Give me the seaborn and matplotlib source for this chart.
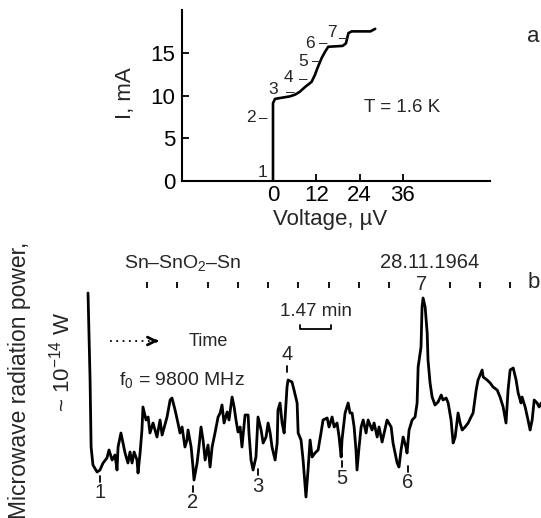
import matplotlib
matplotlib.use("Agg")
import matplotlib.pyplot as plt
import seaborn as sns

# ---------------- panel a: I-V curve ----------------
iv_voltage = [0, 0, 0.55, 1.9, 4.7, 6.1, 7.3, 8.9, 10.7, 11.6, 12.5, 13.5, 14.4, 15.3,
              19.3, 20.2, 20.9, 21.8, 27.0, 28.3]
iv_current = [0, 9.1, 9.6, 9.7, 9.9, 10.1, 10.4, 11.0, 11.6, 12.4, 13.4, 14.4, 15.1, 15.7,
              15.8, 16.1, 17.3, 17.5, 17.5, 17.8]
x_ticks_a = [0, 12, 24, 36]
y_ticks_a = [0, 5, 10, 15]
a_labels = ["1", "2", "3", "4", "5", "6", "7"]
a_label_v = [-3.0, -6.1, 0.0, 4.2, 8.3, 10.2, 16.3]
a_label_i = [1.05, 7.4, 10.7, 12.1, 14.0, 16.1, 17.4]
a_dash_v = [-2.6, 4.7, 8.4, 11.9, 13.9, 19.4]
a_dash_i = [7.4, 10.4, 11.9, 14.0, 16.1, 16.7]

# ---------------- panel b: microwave power trace ----------------
time_min = [0.00, 0.10, 0.15, 0.24, 0.44, 0.58, 0.73, 0.92, 1.02, 1.17, 1.31, 1.41, 1.46,
            1.60, 1.70, 1.80, 1.94, 2.04, 2.14, 2.24, 2.38, 2.43, 2.53, 2.62, 2.67, 2.82,
            2.92, 3.01, 3.16, 3.35, 3.50, 3.60, 3.84, 3.99, 4.08, 4.23, 4.37, 4.47, 4.57,
            4.71, 4.81, 4.86, 5.01, 5.10, 5.15, 5.30, 5.39, 5.49, 5.59, 5.69, 5.83, 5.93,
            6.03, 6.17, 6.32, 6.42, 6.51, 6.61, 6.76, 6.85, 7.00, 7.10, 7.19, 7.29, 7.39,
            7.48, 7.63, 7.78, 7.82, 7.92, 8.02, 8.16, 8.26, 8.41, 8.51, 8.65, 8.75, 8.85,
            8.94, 9.09, 9.19, 9.23, 9.33, 9.43, 9.53, 9.67, 9.72, 9.91, 10.01, 10.16, 10.21,
            10.35, 10.45, 10.55, 10.59, 10.69, 10.79, 10.89, 11.03, 11.18, 11.32, 11.42,
            11.62, 11.71, 11.86, 11.96, 12.10, 12.20, 12.30, 12.34, 12.49, 12.64, 12.73,
            12.83, 12.93, 13.02, 13.07, 13.17, 13.27, 13.37, 13.51, 13.61, 13.80, 13.90,
            14.05, 14.14, 14.29, 14.39, 14.53, 14.73, 14.82, 15.02, 15.11, 15.21, 15.31,
            15.45, 15.50, 15.60, 15.75, 15.89, 15.99, 16.04, 16.18, 16.23, 16.28, 16.38,
            16.48, 16.52, 16.62, 16.72, 16.86, 17.01, 17.16, 17.25, 17.40, 17.50, 17.64,
            17.74, 17.84, 17.98, 18.08, 18.18, 18.32, 18.47, 18.61, 18.71, 18.86, 18.95,
            19.15, 19.20, 19.39, 19.54, 19.68, 19.88, 20.02, 20.17, 20.31, 20.41, 20.51,
            20.66, 20.80, 20.90, 21.04, 21.09, 21.24, 21.38, 21.48, 21.58, 21.68, 21.82,
            21.92, 22.02]
power_au = [21.2, 12.5, 5.8, 4.0, 3.3, 3.5, 4.2, 4.7, 5.5, 4.5, 5.0, 3.5, 5.8,
            7.2, 6.2, 5.2, 4.2, 5.3, 4.2, 5.3, 4.5, 3.2, 5.2, 7.5, 9.8, 8.5,
            8.8, 7.2, 8.2, 6.8, 8.5, 7.0, 8.8, 10.5, 10.7, 9.5, 8.2, 7.2, 7.8,
            5.8, 6.5, 7.5, 5.8, 3.8, 2.5, 4.2, 5.8, 7.8, 6.5, 4.5, 6.0, 3.8,
            5.8, 7.2, 8.8, 9.2, 10.0, 8.2, 9.3, 8.5, 10.8, 9.8, 8.5, 7.3, 7.8,
            5.8, 9.0, 9.0, 7.2, 4.5, 3.5, 4.8, 8.8, 7.5, 6.2, 6.8, 8.2, 7.2,
            5.8, 4.5, 6.2, 9.5, 10.2, 8.2, 7.2, 11.8, 12.5, 12.3, 11.5, 10.2, 7.2,
            6.5, 4.5, 1.8, 0.8, 3.5, 6.5, 4.8, 5.2, 5.5, 7.2, 8.5,
            8.7, 7.8, 8.8, 7.8, 8.2, 6.8, 4.8, 6.5, 9.2, 10.2, 9.2,
            9.2, 7.8, 5.5, 3.5, 5.8, 7.8, 8.5, 7.2, 8.5, 7.5, 8.2,
            6.8, 7.8, 6.3, 7.2, 8.5, 7.8, 6.2, 4.2, 3.8, 5.5, 6.8,
            5.8, 5.2, 7.5, 8.5, 8.8, 10.2, 13.8, 15.8, 19.8, 20.7, 19.8,
            17.2, 14.5, 12.2, 10.8, 10.0, 10.3, 11.0, 10.5, 10.7, 10.2, 8.5,
            6.2, 6.8, 9.2, 8.2, 7.5, 7.8, 8.2, 8.8, 9.2, 11.5, 12.5,
            13.5, 12.8, 12.5, 12.2, 11.8, 11.5, 10.8, 9.8, 8.2, 11.5, 13.5,
            13.7, 12.5, 11.2, 10.2, 10.8, 9.8, 8.5, 7.5, 8.5, 10.5, 10.2,
            9.8, 10.2]
tick_times = [2.87, 4.34, 5.81, 7.28, 8.75, 10.22, 11.69, 13.16, 14.63, 17.57, 19.04, 20.51]
scale_bar_min = 1.47
b_labels = ["1", "2", "3", "4", "5", "6", "7"]
b_label_t = [0.58, 5.10, 8.26, 9.67, 12.34, 15.55, 16.23]
b_label_p = [1.2, 0.2, 1.9, 15.0, 2.7, 2.2, 22.0]
b_label_tick_dir = [1, 1, 1, -1, 1, 1, 0]

# ---------------- style ----------------
sns.set_theme(style="white")
plt.rcParams['font.family'] = ['Liberation Sans', 'DejaVu Sans']
plt.rcParams['mathtext.fontset'] = 'custom'
plt.rcParams['mathtext.rm'] = 'Liberation Sans'
plt.rcParams['mathtext.it'] = 'Liberation Sans:italic'
plt.rcParams['mathtext.bf'] = 'Liberation Sans:bold'
plt.rcParams['mathtext.default'] = 'regular'

fig = plt.figure(figsize=(5.41, 5.18), dpi=100)
W, H = 541.0, 518.0

# ---------------- panel a ----------------
ax1 = fig.add_axes([182 / W, 1 - 181 / H, 308 / W, 171 / H])
sns.lineplot(x=iv_voltage, y=iv_current, sort=False, estimator=None,
             color='black', lw=1.9, ax=ax1)
ax1.set_xlim(-25.2, 60.1)
ax1.set_ylim(0, 20)
ax1.set_xticks(x_ticks_a)
ax1.set_yticks(y_ticks_a)
ax1.set_xticklabels([str(v) for v in x_ticks_a])
ax1.set_yticklabels([str(v) for v in y_ticks_a])
for s in ['top', 'right']:
    ax1.spines[s].set_visible(False)
for s in ['left', 'bottom']:
    ax1.spines[s].set_linewidth(1.5)
    ax1.spines[s].set_color('black')
ax1.tick_params(axis='both', direction='in', length=5, width=1.3, colors='black',
                labelsize=16, bottom=True, left=True)
ax1.tick_params(axis='y', pad=5)
ax1.tick_params(axis='x', pad=3)
ax1.set_xlabel('')
ax1.set_ylabel('')
ax1.text(-0.185, 0.515, 'I, mA', transform=ax1.transAxes, rotation=90,
         ha='center', va='center', fontsize=16)
ax1.text(0.48, -0.225, 'Voltage, µV', transform=ax1.transAxes,
         ha='center', va='center', fontsize=16)
ax1.text(25.3, 8.6, 'T = 1.6 K', ha='left', va='center', fontsize=13.5)
for lab, v, i in zip(a_labels, a_label_v, a_label_i):
    ax1.text(v, i, lab, ha='center', va='center', fontsize=12.5, clip_on=False)
for v, i in zip(a_dash_v, a_dash_i):
    ax1.text(v, i, '–', ha='center', va='center', fontsize=11, clip_on=False)
fig.text(533 / W, 1 - 37 / H, 'a', ha='center', va='center', fontsize=16)

# ---------------- panel b ----------------
ax2 = fig.add_axes([83.9 / W, 0.0, (540.8 - 83.9) / W, 268 / H])
sns.lineplot(x=time_min, y=power_au, sort=False, estimator=None,
             color='black', lw=2.0, ax=ax2)
ax2.lines[-1].set_clip_on(False)
ax2.set_xlim(-0.2, 22.0)
ax2.set_ylim(-1.3, 25.5)
ax2.set_axis_off()

# time marks
for tt in tick_times:
    ax2.plot([tt, tt], [21.7, 22.3], color='black', lw=1.3, solid_capstyle='butt')
# scale bar
t0 = tick_times[5] + 0.1
ax2.plot([t0, t0, t0 + scale_bar_min, t0 + scale_bar_min], [18.0, 17.65, 17.65, 18.0],
         color='black', lw=1.3)
ax2.text(t0 + scale_bar_min / 2, 19.3, '1.47 min', ha='center', va='center', fontsize=13.5)

ax2.text(4.62, 24.2, 'Sn–SnO$_2$–Sn', ha='center', va='center', fontsize=14)
ax2.text(16.62, 24.2, '28.11.1964', ha='center', va='center', fontsize=14.5)
fig.text(533.5 / W, 1 - 283 / H, 'b', ha='center', va='center', fontsize=16)

# dotted arrow
ax2.plot([1.07, 3.3], [16.4, 16.4], color='black', lw=1.3, linestyle=(0, (1, 2.5)))
ax2.annotate('', xy=(3.55, 16.4), xytext=(3.15, 16.4),
             arrowprops=dict(arrowstyle='->', lw=2.0, color='black',
                             mutation_scale=14))
ax2.text(5.83, 16.4, 'Time', ha='center', va='center', fontsize=13)
ax2.text(4.57, 12.5, 'f$_0$ = 9800 MHz', ha='center', va='center', fontsize=14)

for lab, tt, pp, d in zip(b_labels, b_label_t, b_label_p, b_label_tick_dir):
    ax2.text(tt, pp, lab, ha='center', va='center', fontsize=14.5, clip_on=False)
    if d != 0:
        base = pp + d * 1.1
        ax2.plot([tt, tt], [base, base + d * 0.6], color='black', lw=1.3, clip_on=False)

fig.text(20 / W, 1 - 380 / H, 'Microwave radiation power,', rotation=90,
         ha='center', va='center', fontsize=16.5)
fig.text(62 / W, 1 - 362 / H, '~ 10$^{-14}$ W', rotation=90,
         ha='center', va='center', fontsize=16)

fig.savefig('out.png', dpi=100)
